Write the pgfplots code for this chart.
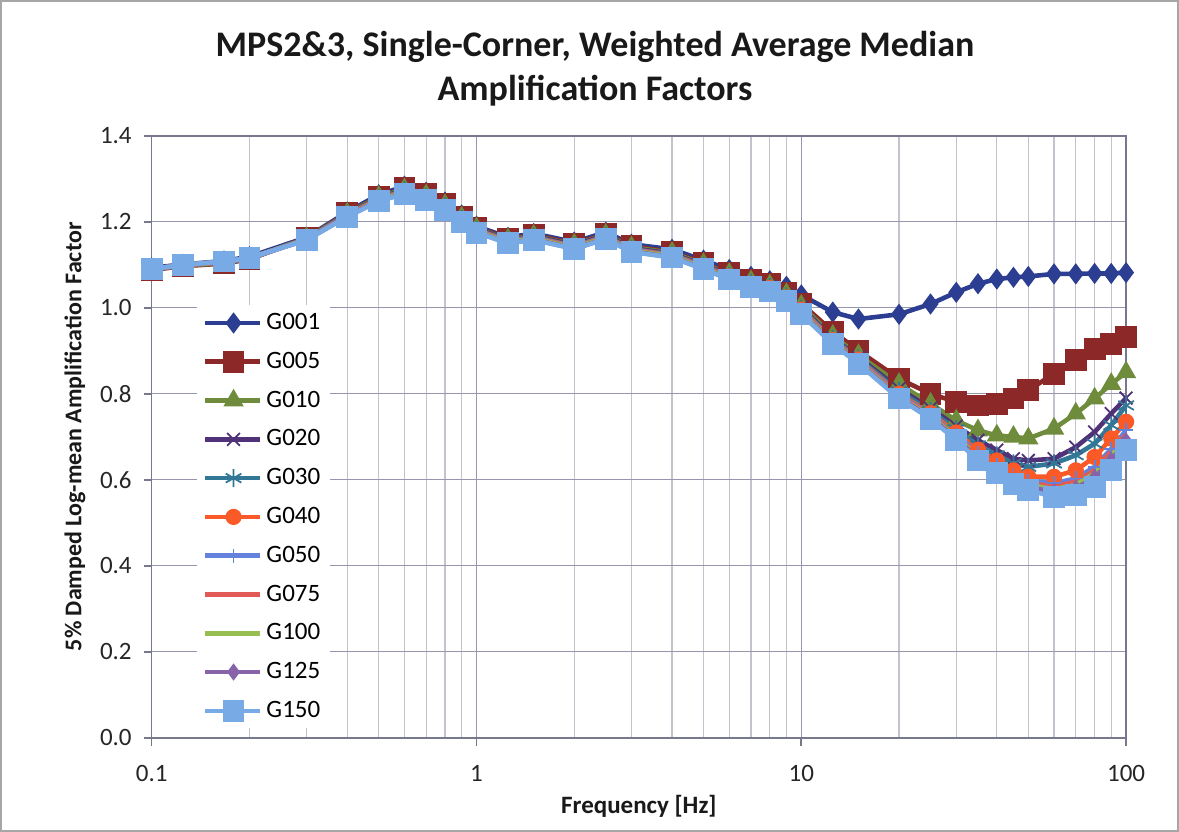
\documentclass[border=0pt]{standalone}
\usepackage{pgfplots}
\pgfplotsset{compat=1.18}
\usepackage{pgfplotstable}
\usepackage{fontspec}
\setmainfont{Carlito}

\definecolor{cA}{RGB}{44,62,145}
\definecolor{cB}{RGB}{140,40,40}
\definecolor{cC}{RGB}{110,140,60}
\definecolor{cD}{RGB}{80,50,120}
\definecolor{cE}{RGB}{50,120,150}
\definecolor{cF}{RGB}{250,90,40}
\definecolor{cG}{RGB}{100,130,220}
\definecolor{cH}{RGB}{225,90,85}
\definecolor{cI}{RGB}{150,190,80}
\definecolor{cJ}{RGB}{135,100,170}
\definecolor{cK}{RGB}{120,170,230}
\definecolor{gridmaj}{RGB}{150,150,175}
\definecolor{gridmin}{RGB}{195,195,205}
\definecolor{axln}{RGB}{120,120,140}

\pgfplotstableread{
f     g001  g005  g010  g020  g030  g040  g050  g075  g100  g125  g150
0.1   1.093 1.088 1.089 1.090 1.090 1.090 1.090 1.090 1.090 1.090 1.090
0.125 1.101 1.097 1.098 1.099 1.099 1.099 1.100 1.100 1.100 1.100 1.100
0.167 1.109 1.103 1.104 1.105 1.106 1.106 1.107 1.107 1.107 1.108 1.108
0.2   1.119 1.113 1.114 1.114 1.115 1.115 1.115 1.116 1.116 1.116 1.116
0.3   1.164 1.163 1.162 1.161 1.161 1.160 1.160 1.159 1.159 1.158 1.158
0.4   1.223 1.220 1.219 1.218 1.217 1.216 1.215 1.214 1.213 1.213 1.212
0.5   1.263 1.259 1.258 1.256 1.255 1.254 1.253 1.252 1.251 1.249 1.248
0.6   1.283 1.278 1.276 1.274 1.273 1.271 1.270 1.269 1.268 1.266 1.265
0.7   1.269 1.264 1.262 1.260 1.258 1.257 1.256 1.254 1.253 1.251 1.250
0.8   1.246 1.241 1.239 1.237 1.236 1.234 1.233 1.232 1.230 1.229 1.228
0.9   1.216 1.212 1.210 1.209 1.207 1.206 1.205 1.204 1.203 1.201 1.200
1.0   1.190 1.187 1.185 1.184 1.182 1.181 1.180 1.179 1.178 1.176 1.175
1.25  1.164 1.161 1.159 1.158 1.157 1.156 1.155 1.154 1.153 1.151 1.150
1.5   1.173 1.170 1.168 1.167 1.165 1.164 1.163 1.162 1.161 1.159 1.158
2.0   1.153 1.149 1.147 1.146 1.144 1.143 1.142 1.141 1.140 1.138 1.137
2.5   1.176 1.172 1.170 1.169 1.167 1.166 1.165 1.164 1.163 1.161 1.160
3.0   1.148 1.143 1.141 1.139 1.137 1.136 1.135 1.134 1.133 1.131 1.130
4.0   1.136 1.130 1.128 1.126 1.124 1.123 1.122 1.121 1.120 1.118 1.117
5.0   1.111 1.104 1.102 1.100 1.098 1.097 1.095 1.094 1.093 1.091 1.090
6.0   1.089 1.081 1.079 1.077 1.075 1.073 1.072 1.070 1.069 1.067 1.066
7.0   1.073 1.064 1.062 1.060 1.058 1.056 1.054 1.053 1.051 1.049 1.048
8.0   1.063 1.055 1.052 1.050 1.048 1.046 1.044 1.043 1.041 1.039 1.038
9.0   1.050 1.035 1.032 1.029 1.026 1.024 1.022 1.020 1.018 1.016 1.015
10    1.030 1.010 1.005 1.001 0.998 0.996 0.993 0.991 0.989 0.987 0.985
12.5  0.990 0.945 0.935 0.930 0.928 0.925 0.923 0.921 0.920 0.918 0.916
15    0.974 0.900 0.890 0.885 0.882 0.880 0.878 0.876 0.874 0.872 0.870
20    0.985 0.835 0.823 0.812 0.806 0.800 0.798 0.795 0.793 0.791 0.789
25    1.009 0.800 0.777 0.766 0.760 0.755 0.752 0.750 0.747 0.745 0.742
30    1.036 0.781 0.738 0.725 0.718 0.710 0.705 0.702 0.699 0.696 0.692
35    1.056 0.773 0.715 0.692 0.680 0.670 0.662 0.658 0.654 0.650 0.645
40    1.067 0.777 0.703 0.669 0.657 0.645 0.635 0.630 0.625 0.620 0.615
45    1.071 0.789 0.700 0.649 0.638 0.622 0.612 0.607 0.602 0.597 0.591
50    1.073 0.808 0.696 0.645 0.630 0.607 0.598 0.592 0.588 0.583 0.576
60    1.079 0.847 0.719 0.649 0.638 0.607 0.592 0.585 0.578 0.572 0.560
70    1.079 0.878 0.754 0.676 0.657 0.622 0.603 0.595 0.588 0.580 0.564
80    1.080 0.905 0.789 0.711 0.684 0.653 0.630 0.622 0.615 0.605 0.583
90    1.080 0.916 0.823 0.754 0.727 0.696 0.672 0.665 0.655 0.645 0.622
100   1.082 0.933 0.850 0.790 0.773 0.735 0.715 0.705 0.700 0.690 0.669
}\datatable

\begin{document}
\begin{tikzpicture}
\begin{axis}[
  at={(0,0)}, anchor=south west,
  scale only axis, width=487.2bp, height=300.9bp,
  xmode=log, xmin=0.1, xmax=100, ymin=0, ymax=1.4,
  xtick={0.1,1,10,100}, xticklabels={0.1,1,10,100},
  ytick={0,0.2,0.4,0.6,0.8,1.0,1.2,1.4},
  yticklabel style={/pgf/number format/fixed, /pgf/number format/fixed zerofill, /pgf/number format/precision=1, /pgf/number format/assume math mode=true, xshift=-2.5bp},
  ticklabel style={font=\fontsize{12.5bp}{14bp}\selectfont, text=black!85},
  xticklabel style={yshift=-6.5bp},
  grid=both,
  major grid style={draw=gridmaj, line width=0.6bp},
  minor grid style={draw=gridmin, line width=0.6bp},
  axis line style={draw=axln, line width=0.8bp},
  tick style={draw=axln, line width=0.8bp},
  tick align=outside, major tick length=4bp, minor tick length=0bp,
  xtick pos=lower, ytick pos=left,
  xlabel={\bfseries Frequency [Hz]},
  ylabel={\bfseries 5\% Damped Log-mean Amplification Factor},
  label style={text=black!90},
  xlabel style={font=\fontsize{12.5bp}{14bp}\selectfont, at={(axis description cs:0.5,-0.114)}, anchor=center},
  ylabel style={font=\fontsize{12bp}{14bp}\selectfont, at={(axis description cs:-0.0787,0.5)}, anchor=center},
  legend style={at={(axis description cs:0.046,0.719)}, anchor=north west, draw=none, fill=white,
    font=\fontsize{12.5bp}{15bp}\selectfont, row sep=5.8bp, inner xsep=3bp, inner ysep=2bp},
  legend cell align=left,
  legend image code/.code={\draw[mark repeat=2,mark phase=2] plot coordinates {(0cm,0cm) (0.5cm,0cm) (0.97cm,0cm)};},
  every axis plot/.append style={line width=2.3bp, mark options={solid, line width=0.9bp}},
]
\addplot[color=cA, mark=diamond*, mark size=4.6bp] table[x=f,y=g001] {\datatable};
\addlegendentry{G001}
\addplot[color=cB, mark=square*, mark size=5bp] table[x=f,y=g005] {\datatable};
\addlegendentry{G005}
\addplot[color=cC, mark=triangle*, mark size=5bp] table[x=f,y=g010] {\datatable};
\addlegendentry{G010}
\addplot[color=cD, mark=x, mark size=4.5bp] table[x=f,y=g020] {\datatable};
\addlegendentry{G020}
\addplot[color=cE, mark=asterisk, mark size=4.5bp] table[x=f,y=g030] {\datatable};
\addlegendentry{G030}
\addplot[color=cF, mark=*, mark size=3.6bp] table[x=f,y=g040] {\datatable};
\addlegendentry{G040}
\addplot[color=cG, mark=+, mark size=3.5bp] table[x=f,y=g050] {\datatable};
\addlegendentry{G050}
\addplot[color=cH] table[x=f,y=g075] {\datatable};
\addlegendentry{G075}
\addplot[color=cI] table[x=f,y=g100] {\datatable};
\addlegendentry{G100}
\addplot[color=cJ, mark=diamond*, mark size=3.6bp] table[x=f,y=g125] {\datatable};
\addlegendentry{G125}
\addplot[color=cK, mark=square*, mark size=5bp] table[x=f,y=g150] {\datatable};
\addlegendentry{G150}
\end{axis}
\node[align=center, font=\fontsize{18bp}{22bp}\selectfont\bfseries, text=black!90] at (221.65bp,334.3bp)
  {MPS2\&3, Single-Corner, Weighted Average Median\\Amplification Factors};
\draw[use as bounding box, draw=gray!70, line width=1bp] (-75.35bp,-46.65bp) rectangle (513.15bp,368.35bp);
\end{tikzpicture}
\end{document}
